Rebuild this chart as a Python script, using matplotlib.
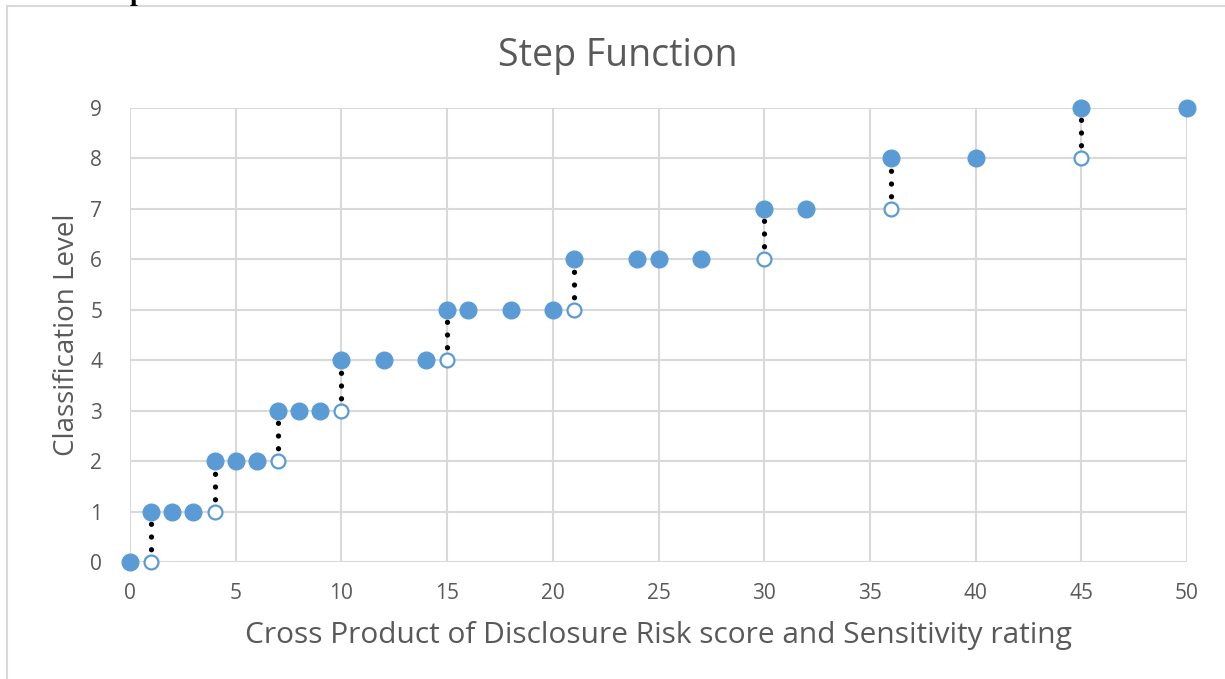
import matplotlib
matplotlib.use("Agg")
from matplotlib import pyplot as plt
from matplotlib.lines import Line2D

# data
filled_x = [0, 1, 2, 3, 4, 5, 6, 7, 8, 9, 10, 12, 14, 15, 16, 18, 20, 21, 24, 25, 27, 30, 32, 36, 40, 45, 50]
filled_y = [0, 1, 1, 1, 2, 2, 2, 3, 3, 3, 4, 4, 4, 5, 5, 5, 5, 6, 6, 6, 6, 7, 7, 8, 8, 9, 9]
open_x = [1, 4, 7, 10, 15, 21, 30, 36, 45]
open_y = [0, 1, 2, 3, 4, 5, 6, 7, 8]
x_ticks = [0, 5, 10, 15, 20, 25, 30, 35, 40, 45, 50]
y_ticks = [0, 1, 2, 3, 4, 5, 6, 7, 8, 9]

BLUE = "#5B9BD5"
GRID = "#D9D9D9"
TEXT = "#595959"

plt.rcParams["font.family"] = ["Open Sans", "DejaVu Sans"]

fig = plt.figure(figsize=(12.25, 6.79), dpi=100)
ax = fig.add_axes([130 / 1225, 1 - 562 / 679, 1057 / 1225, 454 / 679])

# outer chart frame (cropped off at right/bottom)
fig.add_artist(Line2D([7 / 1225, 7 / 1225], [0, 1 - 6 / 679], color=GRID, lw=1.5))
fig.add_artist(Line2D([7 / 1225, 1], [1 - 6 / 679, 1 - 6 / 679], color=GRID, lw=1.5))
# bit of the surrounding document peeking in at the top (cut off, as in the source)
fig.text(137 / 1225, 1 + 6 / 679, "p", fontsize=20, fontweight="bold",
         family="Liberation Serif", ha="center", va="center", color="black")

# dotted connectors between open and filled points
lookup = dict(zip(filled_x, filled_y))
for x, y in zip(open_x, open_y):
    ax.plot([x, x], [y, lookup[x]], color="black", lw=3.8,
            linestyle=(0, (0.01, 2.4)), dash_capstyle="round", zorder=2, clip_on=False)

ax.plot(open_x, open_y, "o", ms=10, mfc="white", mec=BLUE, mew=1.6, zorder=3, clip_on=False)
ax.plot(filled_x, filled_y, "o", ms=12, color=BLUE, zorder=4, clip_on=False)

ax.set_xlim(0, 50)
ax.set_ylim(0, 9)
ax.set_xticks(x_ticks)
ax.set_yticks(y_ticks)
ax.grid(True, color=GRID, lw=1.5)
ax.set_axisbelow(True)
for s in ax.spines.values():
    s.set_visible(False)
ax.tick_params(axis="both", length=0, labelsize=15, labelcolor=TEXT)
ax.tick_params(axis="x", pad=15)
ax.tick_params(axis="y", pad=20)

# title is centred on the whole chart frame, not on the plot area
ax.set_title("Step Function", fontsize=27, color=TEXT, pad=30, x=(618 - 130) / 1057)
ax.set_xlabel("Cross Product of Disclosure Risk score and Sensitivity rating",
              fontsize=21.5, color=TEXT, labelpad=12)
ax.set_ylabel("Classification Level", fontsize=20, color=TEXT, labelpad=7)

fig.savefig("out.png", dpi=100)
